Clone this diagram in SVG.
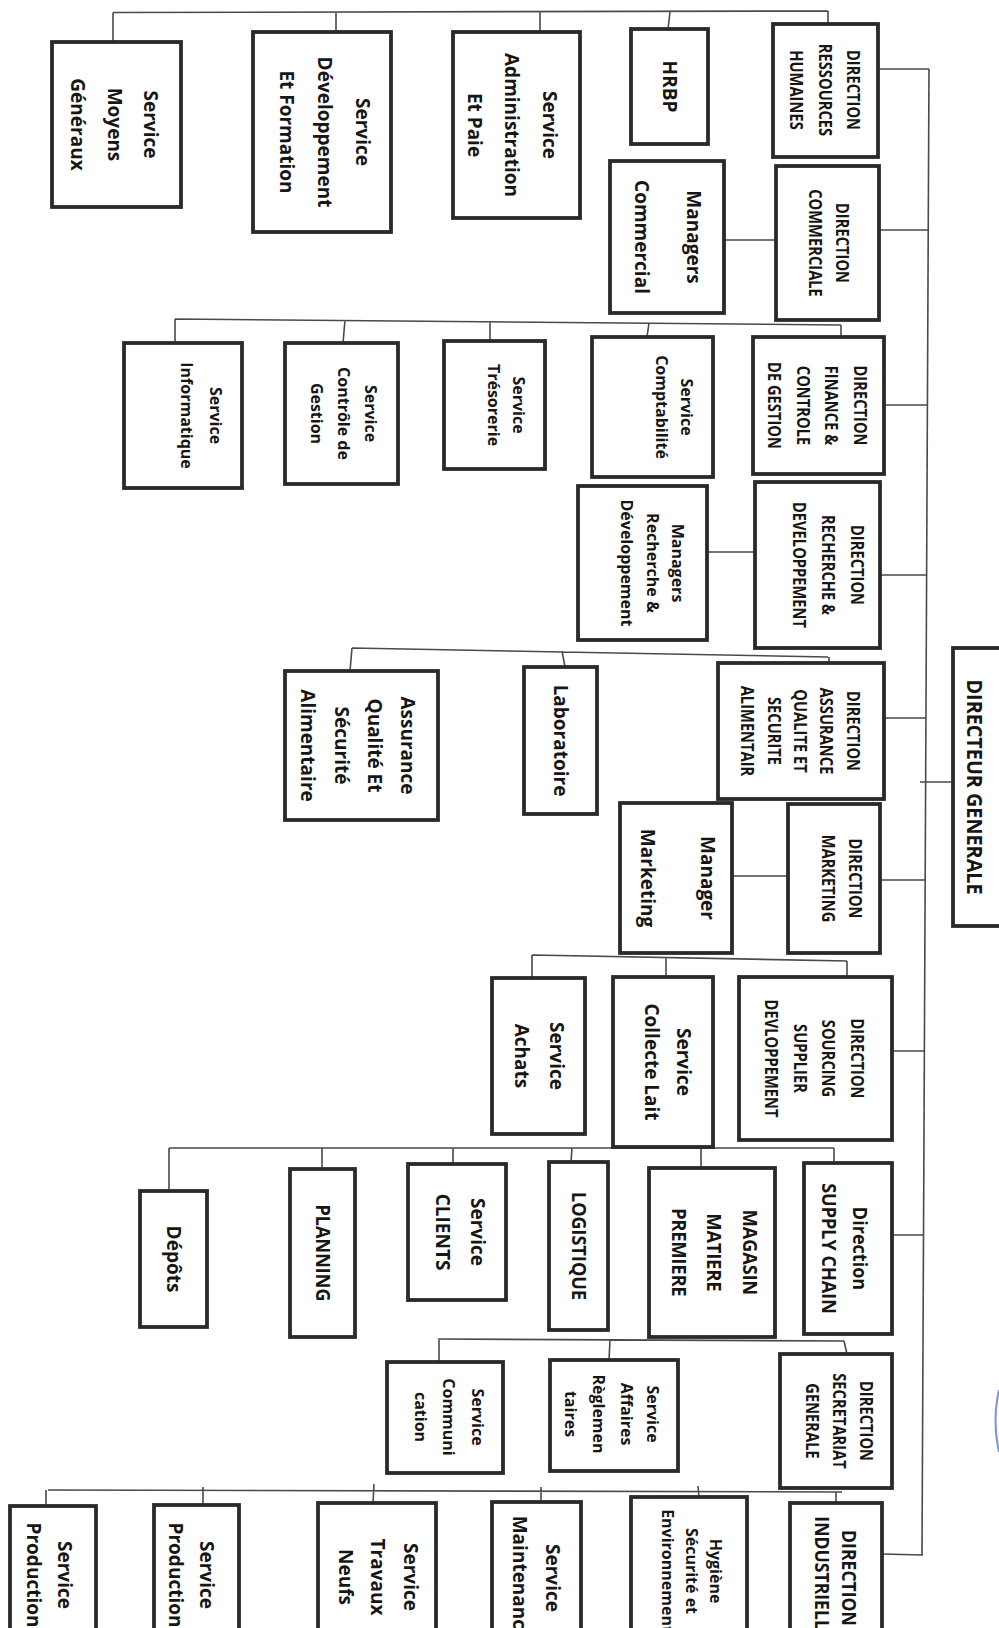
<svg xmlns="http://www.w3.org/2000/svg" width="999" height="1628" viewBox="0 0 999 1628">
<style>
.box{fill:#fff;stroke:#2a2a2a;stroke-width:3.8}
.ln{stroke:#4a4a4a;stroke-width:1.6;fill:none}
text{font-family:"Open Sans","Liberation Sans",sans-serif;font-weight:bold;fill:#161616;text-anchor:middle}
.L{font-size:19px}
.S{font-size:16px}
.D{font-size:17.5px}
.G{font-size:22px}
.I{font-size:20px}
</style>
<rect width="999" height="1628" fill="#fff"/>
<g id="connectors">
<path class="ln" d="M929 69 L922 1555"/>
<path class="ln" d="M878 69H929M879 230H929M884 405H928M880 575H927M884 718H926M920 782H953M880 880H925M892 1051H925M892 1235H924M882 1554L923 1555"/>
<path class="ln" d="M724 240H776M707 552H755M732 876H788"/>
<path class="ln" d="M113 12.5L828 11M113 12.5V42M336 12V32M540 12V32M670 12L668 29M828 11V24"/>
<path class="ln" d="M175 319L841 325M175 319V343M345 320L343 343M490 321V341M649 323L647 337M841 325V337"/>
<path class="ln" d="M352 648L828 657M352 648L350 671M562 651L565 667M829 657V663"/>
<path class="ln" d="M532 955L847 961M532 955V978M666 957V977M847 961V977"/>
<path class="ln" d="M169 1148H834M169 1148V1191M322 1148V1169M453 1148V1164M572 1148L571 1162M701 1148V1168M834 1148V1163"/>
<path class="ln" d="M438 1339L844 1341M439 1339V1362M610 1340L609 1360M844 1341L847 1354"/>
<path class="ln" d="M48 1490L842 1492M46 1490V1506M203 1487V1505M374 1484L373 1503M541 1487V1502M698 1486L699 1497M836 1492V1503"/>
</g>
<g id="n-drh"><rect class="box" x="773" y="24" width="105" height="133"/><text class="D" transform="translate(846.8,90) rotate(90) scale(0.84,1)"><tspan x="0" y="0">DIRECTION</tspan><tspan x="0" y="28">RESSOURCES</tspan><tspan x="0" y="57">HUMAINES</tspan></text></g>
<g id="n-hrbp"><rect class="box" x="631" y="29" width="77" height="115"/><text class="L" transform="translate(662.7,86.5) rotate(90)">HRBP</text></g>
<g id="n-admin"><rect class="box" x="453" y="32" width="127" height="186"/><text class="L" transform="translate(543.2,125) rotate(90)"><tspan x="0" y="0">Service</tspan><tspan x="0" y="38">Administration</tspan><tspan x="0" y="75">Et Paie</tspan></text></g>
<g id="n-dev"><rect class="box" x="253" y="32" width="138" height="200"/><text class="L" transform="translate(356.2,132) rotate(90)"><tspan x="0" y="0">Service</tspan><tspan x="0" y="38">Développement</tspan><tspan x="0" y="76">Et Formation</tspan></text></g>
<g id="n-moyens"><rect class="box" x="52" y="42" width="129" height="165"/><text class="L" transform="translate(144.2,124.5) rotate(90)"><tspan x="0" y="0">Service</tspan><tspan x="0" y="36">Moyens</tspan><tspan x="0" y="73">Généraux</tspan></text></g>
<g id="n-dc"><rect class="box" x="776" y="166" width="103" height="154"/><text class="D" transform="translate(835.8,243) rotate(90) scale(0.84,1)"><tspan x="0" y="0">DIRECTION</tspan><tspan x="0" y="27">COMMERCIALE</tspan></text></g>
<g id="n-mc"><rect class="box" x="610" y="161" width="114" height="152"/><text class="L" transform="translate(687.2,237) rotate(90)"><tspan x="0" y="0">Managers</tspan><tspan x="0" y="52">Commercial</tspan></text></g>
<g id="n-dfcg"><rect class="box" x="753" y="337" width="131" height="137"/><text class="D" transform="translate(853.8,405.5) rotate(90) scale(0.84,1)"><tspan x="0" y="0">DIRECTION</tspan><tspan x="0" y="29">FINANCE &amp;</tspan><tspan x="0" y="57">CONTROLE</tspan><tspan x="0" y="86">DE GESTION</tspan></text></g>
<g id="n-compta"><rect class="box" x="592" y="337" width="121" height="140"/><text class="S" transform="translate(681.3,407) rotate(90)"><tspan x="0" y="0">Service</tspan><tspan x="0" y="25">Comptabilité</tspan></text></g>
<g id="n-treso"><rect class="box" x="444" y="341" width="101" height="128"/><text class="S" transform="translate(513.3,405) rotate(90)"><tspan x="0" y="0">Service</tspan><tspan x="0" y="25">Trésorerie</tspan></text></g>
<g id="n-cdg"><rect class="box" x="285" y="343" width="113" height="141"/><text class="S" transform="translate(365.3,413.5) rotate(90)"><tspan x="0" y="0">Service</tspan><tspan x="0" y="27">Contrôle de</tspan><tspan x="0" y="54">Gestion</tspan></text></g>
<g id="n-info"><rect class="box" x="124" y="343" width="118" height="145"/><text class="S" transform="translate(210.3,415.5) rotate(90)"><tspan x="0" y="0">Service</tspan><tspan x="0" y="29">Informatique</tspan></text></g>
<g id="n-drd"><rect class="box" x="755" y="482" width="125" height="166"/><text class="D" transform="translate(850.8,565) rotate(90) scale(0.84,1)"><tspan x="0" y="0">DIRECTION</tspan><tspan x="0" y="29">RECHERCHE &amp;</tspan><tspan x="0" y="58">DEVELOPPEMENT</tspan></text></g>
<g id="n-mrd"><rect class="box" x="578" y="486" width="129" height="154"/><text class="S" transform="translate(672.3,563) rotate(90)"><tspan x="0" y="0">Managers</tspan><tspan x="0" y="25">Recherche &amp;</tspan><tspan x="0" y="51">Développement</tspan></text></g>
<g id="n-daq"><rect class="box" x="718" y="663" width="166" height="136"/><text class="D" transform="translate(846.8,731) rotate(90) scale(0.84,1)"><tspan x="0" y="0">DIRECTION</tspan><tspan x="0" y="27">ASSURANCE</tspan><tspan x="0" y="53">QUALITE ET</tspan><tspan x="0" y="79">SECURITE</tspan><tspan x="0" y="106">ALIMENTAIR</tspan></text></g>
<g id="n-lab"><rect class="box" x="524" y="667" width="73" height="147"/><text class="L" transform="translate(553.7,740.5) rotate(90)">Laboratoire</text></g>
<g id="n-aq"><rect class="box" x="285" y="671" width="153" height="149"/><text class="L" transform="translate(401.2,745.5) rotate(90)"><tspan x="0" y="0">Assurance</tspan><tspan x="0" y="33">Qualité Et</tspan><tspan x="0" y="66">Sécurité</tspan><tspan x="0" y="100">Alimentaire</tspan></text></g>
<g id="n-dg"><rect class="box" x="953" y="648" width="60" height="278"/><text class="G" transform="translate(967.2,787) rotate(90) scale(0.9,1)">DIRECTEUR GENERALE</text></g>
<g id="n-dm"><rect class="box" x="788" y="804" width="92" height="149"/><text class="D" transform="translate(848.8,878.5) rotate(90) scale(0.84,1)"><tspan x="0" y="0">DIRECTION</tspan><tspan x="0" y="27">MARKETING</tspan></text></g>
<g id="n-mm"><rect class="box" x="620" y="803" width="112" height="150"/><text class="L" transform="translate(701.2,878) rotate(90)"><tspan x="0" y="0">Manager</tspan><tspan x="0" y="60">Marketing</tspan></text></g>
<g id="n-dssd"><rect class="box" x="739" y="977" width="153" height="163"/><text class="D" transform="translate(850.8,1058.5) rotate(90) scale(0.84,1)"><tspan x="0" y="0">DIRECTION</tspan><tspan x="0" y="29">SOURCING</tspan><tspan x="0" y="57">SUPPLIER</tspan><tspan x="0" y="86">DEVLOPPEMENT</tspan></text></g>
<g id="n-collecte"><rect class="box" x="613" y="977" width="100" height="170"/><text class="L" transform="translate(677.2,1062) rotate(90)"><tspan x="0" y="0">Service</tspan><tspan x="0" y="32">Collecte Lait</tspan></text></g>
<g id="n-achats"><rect class="box" x="492" y="978" width="93" height="156"/><text class="L" transform="translate(550.2,1056) rotate(90)"><tspan x="0" y="0">Service</tspan><tspan x="0" y="35">Achats</tspan></text></g>
<g id="n-dsc"><rect class="box" x="804" y="1163" width="88" height="171"/><text class="L" transform="translate(853.2,1248.5) rotate(90) scale(0.95,1)"><tspan x="0" y="0">Direction</tspan><tspan x="0" y="31">SUPPLY CHAIN</tspan></text></g>
<g id="n-magasin"><rect class="box" x="649" y="1168" width="126" height="169"/><text class="L" transform="translate(743.2,1252.5) rotate(90) scale(0.95,1)"><tspan x="0" y="0">MAGASIN</tspan><tspan x="0" y="36">MATIERE</tspan><tspan x="0" y="71">PREMIERE</tspan></text></g>
<g id="n-logistique"><rect class="box" x="549" y="1162" width="59" height="168"/><text class="L" transform="translate(571.7,1246) rotate(90) scale(0.95,1)">LOGISTIQUE</text></g>
<g id="n-clients"><rect class="box" x="408" y="1164" width="98" height="136"/><text class="L" transform="translate(471.2,1232) rotate(90)"><tspan x="0" y="0">Service</tspan><tspan x="0" y="35">CLIENTS</tspan></text></g>
<g id="n-planning"><rect class="box" x="290" y="1169" width="65" height="168"/><text class="L" transform="translate(315.7,1253) rotate(90) scale(0.95,1)">PLANNING</text></g>
<g id="n-depots"><rect class="box" x="140" y="1191" width="67" height="136"/><text class="L" transform="translate(166.7,1259) rotate(90)">Dépôts</text></g>
<g id="n-dsg"><rect class="box" x="780" y="1354" width="112" height="134"/><text class="D" transform="translate(859.8,1421) rotate(90) scale(0.84,1)"><tspan x="0" y="0">DIRECTION</tspan><tspan x="0" y="27">SECRETARIAT</tspan><tspan x="0" y="54">GENERALE</tspan></text></g>
<g id="n-affaires"><rect class="box" x="550" y="1360" width="128" height="111"/><text class="S" transform="translate(647.3,1414) rotate(90)"><tspan x="0" y="0">Service</tspan><tspan x="0" y="26">Affaires</tspan><tspan x="0" y="54">Règlemen</tspan><tspan x="0" y="82">taires</tspan></text></g>
<g id="n-comm"><rect class="box" x="387" y="1362" width="116" height="111"/><text class="S" transform="translate(472.3,1417) rotate(90)"><tspan x="0" y="0">Service</tspan><tspan x="0" y="29">Communi</tspan><tspan x="0" y="57">cation</tspan></text></g>
<g id="n-di"><rect class="box" x="790" y="1503" width="92" height="140"/><text class="I" transform="translate(841.9,1578) rotate(90) scale(0.88,1)"><tspan x="0" y="0">DIRECTION</tspan><tspan x="0" y="27">INDUSTRIELLE</tspan></text></g>
<g id="n-hse"><rect class="box" x="631" y="1497" width="116" height="145"/><text class="S" transform="translate(710.3,1571) rotate(90)"><tspan x="0" y="0">Hygiène</tspan><tspan x="0" y="24">Sécurité et</tspan><tspan x="0" y="48">Environnement</tspan></text></g>
<g id="n-maint"><rect class="box" x="492" y="1502" width="89" height="140"/><text class="L" transform="translate(546.2,1578) rotate(90)"><tspan x="0" y="0">Service</tspan><tspan x="0" y="33">Maintenance</tspan></text></g>
<g id="n-travaux"><rect class="box" x="318" y="1503" width="118" height="140"/><text class="L" transform="translate(404.2,1577) rotate(90)"><tspan x="0" y="0">Service</tspan><tspan x="0" y="33">Travaux</tspan><tspan x="0" y="65">Neufs</tspan></text></g>
<g id="n-prod1"><rect class="box" x="154" y="1505" width="85" height="140"/><text class="L" transform="translate(200.2,1575) rotate(90)"><tspan x="0" y="0">Service</tspan><tspan x="0" y="31">Production</tspan></text></g>
<g id="n-prod2"><rect class="box" x="10" y="1506" width="86" height="140"/><text class="L" transform="translate(58.2,1575) rotate(90)"><tspan x="0" y="0">Service</tspan><tspan x="0" y="31">Production</tspan></text></g>
<path d="M999 1390 Q992 1420 999 1452" fill="none" stroke="#7a98d8" stroke-width="2"/>
</svg>
